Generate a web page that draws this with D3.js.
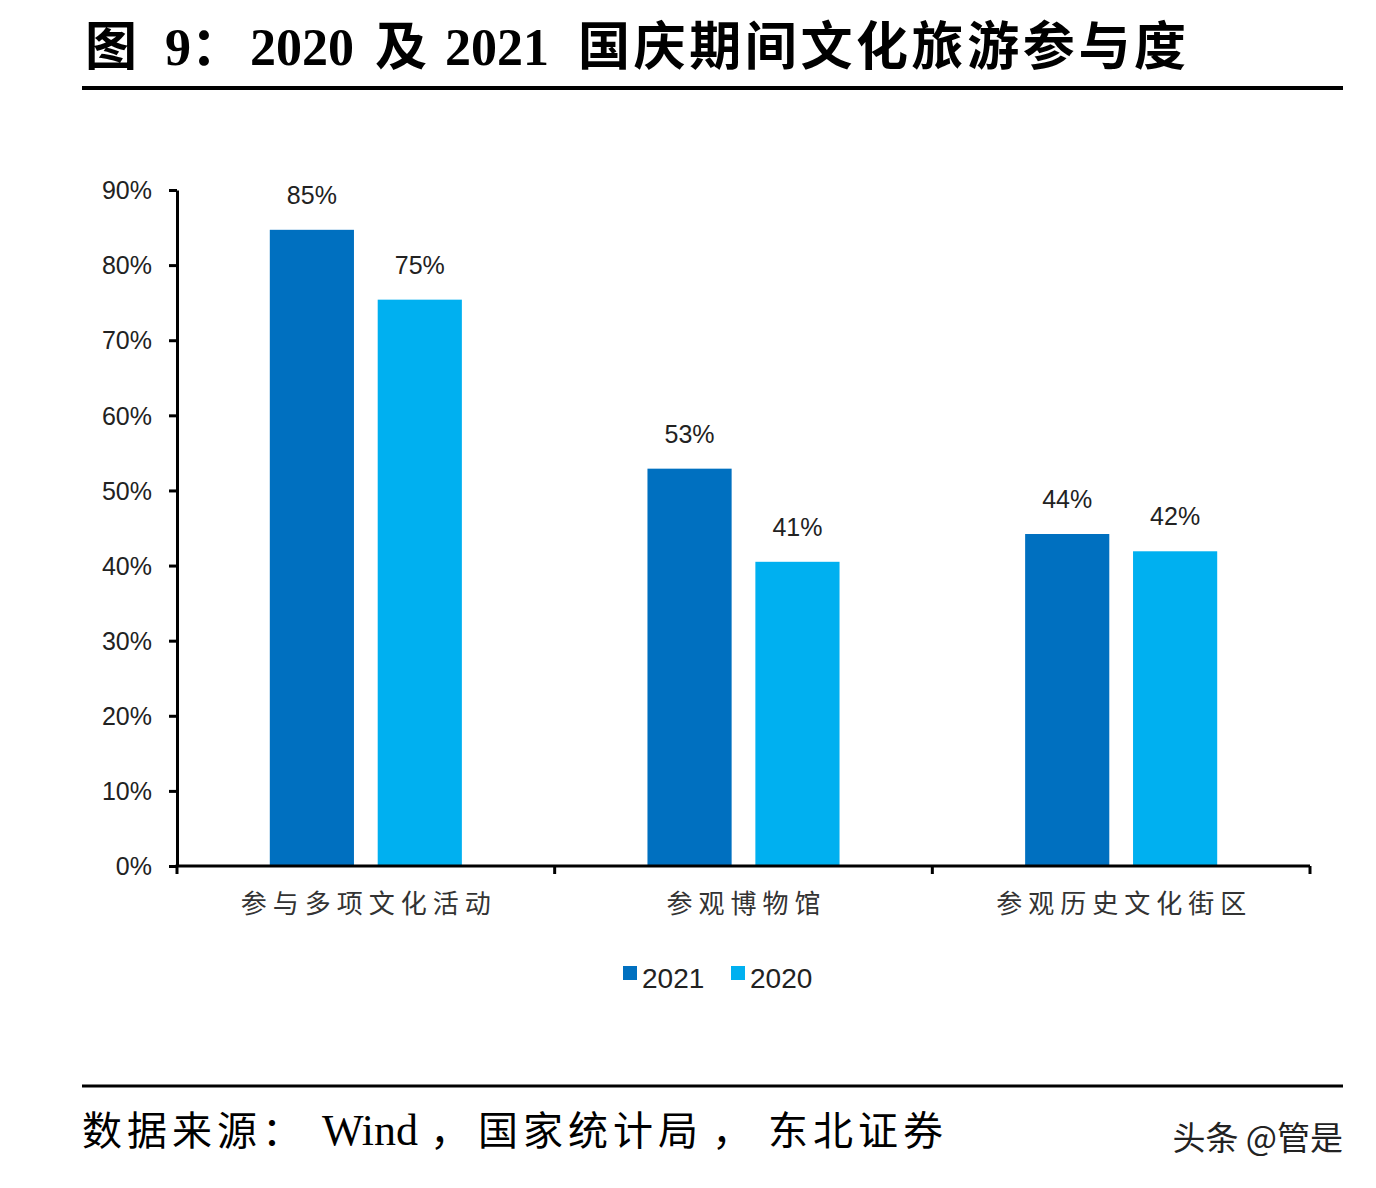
<!DOCTYPE html>
<html><head><meta charset="utf-8">
<script src="https://cdn.jsdelivr.net/npm/d3@7/dist/d3.min.js"></script>
<style>body{margin:0;background:#fff;} svg{display:block;}</style>
</head><body>
<svg id="c" width="1376" height="1188"></svg>
<script>
const categories = ["参与多项文化活动", "参观博物馆", "参观历史文化街区"];
const series = ["2021", "2020"];
const values2021 = [84.7, 52.9, 44.2];
const values2020 = [75.4, 40.5, 41.9];
const labels2021 = ["85%", "53%", "44%"];
const labels2020 = ["75%", "41%", "42%"];
const yTicks = [0, 10, 20, 30, 40, 50, 60, 70, 80, 90];
const colors = {"2021": "#0070C0", "2020": "#00B0F0"};
const titleParts = ["图", "9：", "2020", "及", "2021", "国庆期间文化旅游参与度"];
const footerParts = ["数据来源：", "Wind", "，", "国家统计局", "，", "东北证券"];

(function () {
const svg = d3.select("#c");
const mLeft = 177, mRight = 1310, mTop = 190, mBottom = 866;

// Title (layout positions for text segments)
const titleX = [85, 165, 250, 375, 445, 578];
const tt = svg.append("text").attr("y", 65)
  .attr("font-family", "'Liberation Serif', 'Noto Sans CJK SC', serif").attr("font-weight", "bold")
  .attr("font-size", 52).attr("fill", "#000");
tt.selectAll("tspan").data(titleParts).join("tspan")
  .attr("x", (d, i) => titleX[i])
  .attr("letter-spacing", (d, i) => i === 5 ? 3.6 : 0)
  .text(d => d);
svg.append("line").attr("x1", 82).attr("x2", 1343).attr("y1", 88).attr("y2", 88)
  .attr("stroke", "#000").attr("stroke-width", 4);

const x0 = d3.scaleBand().domain(categories).range([mLeft, mRight]).paddingInner(0).paddingOuter(0);
const x1 = d3.scaleBand().domain(series).range([0, x0.bandwidth()]).paddingInner(0.22).paddingOuter(0.86);
const y = d3.scaleLinear().domain([0, 90]).range([mBottom, mTop]);

const data = categories.map((c, i) => ({cat: c, vals: [
  {s: "2021", v: values2021[i], l: labels2021[i]},
  {s: "2020", v: values2020[i], l: labels2020[i]}]}));

const g = svg.append("g");
const grp = g.selectAll("g.grp").data(data).join("g").attr("class", "grp")
  .attr("transform", d => `translate(${x0(d.cat)},0)`);
grp.selectAll("rect").data(d => d.vals).join("rect")
  .attr("x", d => x1(d.s)).attr("width", x1.bandwidth())
  .attr("y", d => y(d.v)).attr("height", d => y(0) - y(d.v))
  .attr("fill", d => colors[d.s]);
grp.selectAll("text").data(d => d.vals).join("text")
  .attr("x", d => x1(d.s) + x1.bandwidth() / 2).attr("y", d => y(d.v) - 26)
  .attr("text-anchor", "middle").attr("font-family", "'Liberation Sans', Arial, sans-serif")
  .attr("font-size", 25).attr("fill", "#222").text(d => d.l);

// Y axis
const yAxis = d3.axisLeft(y).tickValues(yTicks).tickFormat(d => d + "%").tickSize(8).tickSizeOuter(0);
const ya = svg.append("g").attr("transform", `translate(${mLeft},0)`).call(yAxis);
ya.select(".domain").attr("stroke", "#000").attr("stroke-width", 3);
ya.selectAll(".tick line").attr("stroke", "#000").attr("stroke-width", 3);
ya.selectAll(".tick text").attr("font-family", "'Liberation Sans', Arial, sans-serif")
  .attr("font-size", 25).attr("fill", "#222").attr("x", -25).attr("dy", "0.35em");

// X axis
const xa = svg.append("g").attr("transform", `translate(0,${mBottom})`);
xa.append("line").attr("x1", mLeft - 1.5).attr("x2", mRight).attr("stroke", "#000").attr("stroke-width", 3);
const bounds = categories.map(c => x0(c)).concat([mRight]);
xa.selectAll("line.t").data(bounds).join("line").attr("class", "t")
  .attr("x1", d => d).attr("x2", d => d).attr("y1", 0).attr("y2", 8)
  .attr("stroke", "#000").attr("stroke-width", 3);
xa.selectAll("text").data(categories).join("text")
  .attr("x", d => x0(d) + x0.bandwidth() / 2 + 3).attr("y", 47)
  .attr("text-anchor", "middle").attr("font-family", "'Noto Sans CJK SC', sans-serif")
  .attr("font-size", 26).attr("letter-spacing", 6).attr("fill", "#333").text(d => d);

// Legend
const legX = [623, 731];
const lg = svg.selectAll("g.leg").data(series).join("g").attr("class", "leg")
  .attr("transform", (d, i) => `translate(${legX[i]},966)`);
lg.append("rect").attr("width", 14).attr("height", 14).attr("fill", d => colors[d]);
lg.append("text").attr("x", 19).attr("y", 22).attr("font-family", "'Liberation Sans', Arial, sans-serif")
  .attr("font-size", 28).attr("fill", "#222").text(d => d);

// Footer
svg.append("line").attr("x1", 82).attr("x2", 1343).attr("y1", 1086).attr("y2", 1086)
  .attr("stroke", "#000").attr("stroke-width", 3);
const footerX = [82, 322, 430, 478, 712, 768];
const ft = svg.append("text").attr("y", 1145)
  .attr("font-family", "'Liberation Serif', 'Noto Sans CJK SC', serif").attr("font-size", 40).attr("fill", "#000");
ft.selectAll("tspan").data(footerParts).join("tspan")
  .attr("x", (d, i) => footerX[i])
  .attr("font-size", (d, i) => i === 1 ? 44 : 40)
  .attr("letter-spacing", (d, i) => (i === 0 || i === 3 || i === 5) ? 5 : 0)
  .text(d => d);
svg.append("text").attr("x", 1343).attr("y", 1150).attr("text-anchor", "end")
  .attr("font-family", "'Noto Sans CJK SC', sans-serif").attr("font-size", 33).attr("fill", "#222")
  .text("头条 @管是");
})();
</script>
</body></html>
